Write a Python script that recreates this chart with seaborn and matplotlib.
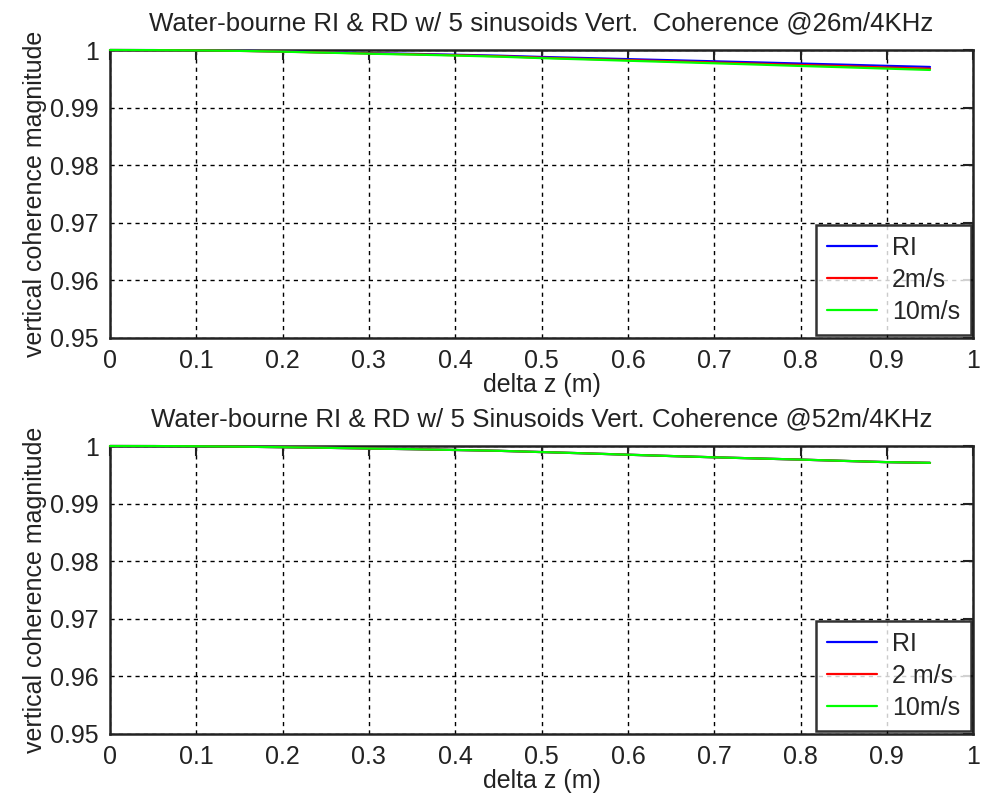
import pandas as pd
import numpy as np
import matplotlib
matplotlib.use("Agg")
import matplotlib.pyplot as plt
import seaborn as sns

# Data
dz = [0.0, 0.05, 0.10, 0.15, 0.20, 0.25, 0.30, 0.35, 0.40, 0.45,
      0.50, 0.55, 0.60, 0.65, 0.70, 0.75, 0.80, 0.85, 0.90, 0.95]

# top panel: 26 m / 4 kHz
ri_26 = [1.0, 0.99999, 0.99994, 0.99987, 0.99975, 0.99960, 0.99946, 0.99933, 0.99918, 0.99902,
         0.99880, 0.99861, 0.99842, 0.99823, 0.99804, 0.99785, 0.99765, 0.99746, 0.99725, 0.99706]
w2_26 = [1.0, 0.99998, 0.99994, 0.99985, 0.99972, 0.99956, 0.99940, 0.99926, 0.99910, 0.99892,
         0.99867, 0.99846, 0.99825, 0.99804, 0.99783, 0.99762, 0.99740, 0.99719, 0.99696, 0.99675]
w10_26 = [1.0, 0.99998, 0.99993, 0.99985, 0.99971, 0.99954, 0.99936, 0.99921, 0.99904, 0.99885,
          0.99859, 0.99837, 0.99814, 0.99792, 0.99770, 0.99747, 0.99723, 0.99701, 0.99677, 0.99654]

# bottom panel: 52 m / 4 kHz (all three overlap)
ri_52 = [1.0, 0.99999, 0.99996, 0.99989, 0.99979, 0.99969, 0.99957, 0.99945, 0.99931, 0.99917,
         0.99895, 0.99873, 0.99849, 0.99826, 0.99804, 0.99784, 0.99764, 0.99742, 0.99720, 0.99708]
w2_52 = [1.0, 0.99999, 0.99996, 0.99989, 0.99979, 0.99969, 0.99957, 0.99945, 0.99931, 0.99917,
         0.99895, 0.99873, 0.99849, 0.99826, 0.99804, 0.99784, 0.99764, 0.99742, 0.99720, 0.99708]
w10_52 = [1.0, 0.99999, 0.99996, 0.99989, 0.99979, 0.99969, 0.99957, 0.99945, 0.99931, 0.99917,
          0.99895, 0.99873, 0.99849, 0.99826, 0.99804, 0.99784, 0.99764, 0.99742, 0.99720, 0.99708]

titles = ["Water-bourne RI & RD w/ 5 sinusoids Vert.  Coherence @26m/4KHz",
          "Water-bourne RI & RD w/ 5 Sinusoids Vert. Coherence @52m/4KHz"]
labels_top = ["RI", "2m/s", "10m/s"]
labels_bot = ["RI", "2 m/s", "10m/s"]
colors = ["#0000ff", "#ff0000", "#00ff00"]
xticks = [0, 0.1, 0.2, 0.3, 0.4, 0.5, 0.6, 0.7, 0.8, 0.9, 1]
yticks = [0.95, 0.96, 0.97, 0.98, 0.99, 1]
ytick_labels = ["0.95", "0.96", "0.97", "0.98", "0.99", "1"]

sns.set_style("white")
plt.rcParams["font.family"] = ["Liberation Sans", "DejaVu Sans"]
fs = 18

fig = plt.figure(figsize=(9.82, 8.08), dpi=100)
ax_top = fig.add_axes([0.112, 0.5817, 0.879, 0.3564])
ax_bot = fig.add_axes([0.112, 0.0916, 0.879, 0.3564])

panels = [
    (ax_top, [ri_26, w2_26, w10_26], labels_top, titles[0]),
    (ax_bot, [ri_52, w2_52, w10_52], labels_bot, titles[1]),
]

for ax, series, labels, title in panels:
    df = pd.DataFrame({"dz": dz})
    for vals, lab, col in zip(series, labels, colors):
        df[lab] = vals
        sns.lineplot(data=df, x="dz", y=lab, color=col, linewidth=1.6,
                     label=lab, ax=ax, clip_on=False, zorder=5)
    ax.set_xlim(0, 1)
    ax.set_ylim(0.95, 1)
    ax.set_xticks(xticks)
    ax.set_xticklabels([f"{t:g}" for t in xticks])
    ax.set_yticks(yticks)
    ax.set_yticklabels(ytick_labels)
    ax.grid(True, color="black", linestyle=(0, (3, 3)), linewidth=1.0)
    ax.tick_params(direction="in", length=7, width=1.5, labelsize=fs,
                   top=True, right=True, colors="#222222", pad=8)
    for sp in ax.spines.values():
        sp.set_color("#222222")
        sp.set_linewidth(1.8)
    ax.set_xlabel("delta z (m)", fontsize=fs, labelpad=0, color="#222222")
    ax.set_ylabel("vertical coherence magnitude", fontsize=fs, labelpad=2, color="#222222")
    ax.set_title(title, fontsize=18.6, pad=14, color="#222222")
    leg = ax.legend(loc="lower right", bbox_to_anchor=(0.998, 0.01), borderaxespad=0,
                    fontsize=fs, frameon=True, fancybox=False, handlelength=2.0,
                    labelspacing=0.32, borderpad=0.45, handletextpad=0.6)
    leg.get_frame().set_edgecolor("black")
    leg.get_frame().set_linewidth(1.8)
    leg.set_zorder(10)

fig.savefig("out.png", dpi=100)
